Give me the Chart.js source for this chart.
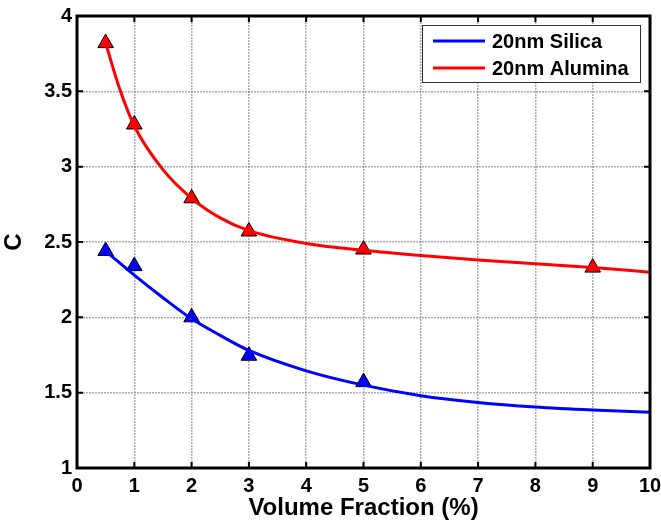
<!DOCTYPE html>
<html>
<head>
<meta charset="utf-8">
<script src="https://cdn.jsdelivr.net/npm/chart.js@4"></script>
<style>
  html, body { margin: 0; padding: 0; background: #fff; }
  #wrap { width: 661px; height: 523px; }
</style>
</head>
<body>
<div id="wrap"><canvas id="chart" width="661" height="523"></canvas></div>
<script>
// fitted curves
const fitX = [0.5, 0.75, 1, 1.5, 2, 2.5, 3, 4, 5, 6, 7, 8, 9, 10];
const silicaFit = [2.44, 2.36, 2.28, 2.13, 1.99, 1.88, 1.78, 1.645, 1.55, 1.48, 1.435, 1.405, 1.385, 1.37];
const aluminaFit = [3.82, 3.51, 3.27, 2.98, 2.79, 2.66, 2.575, 2.49, 2.445, 2.41, 2.38, 2.355, 2.33, 2.30];

// measured points
const silicaX = [0.5, 1, 2, 3, 5];
const silicaY = [2.44, 2.34, 2.0, 1.745, 1.57];
const aluminaX = [0.5, 1, 2, 3, 5, 9];
const aluminaY = [3.82, 3.28, 2.79, 2.57, 2.45, 2.33];

const xTicks = [0, 1, 2, 3, 4, 5, 6, 7, 8, 9, 10];
const yTicks = [1, 1.5, 2, 2.5, 3, 3.5, 4];

const FONT = 'Liberation Sans, Arial, sans-serif';
const pts = (xs, ys) => xs.map((x, i) => ({ x: x, y: ys[i] }));

// frame, inward ticks and legend box
const framePlugin = {
  id: 'frame',
  afterDraw(chart) {
    const { ctx, chartArea: a, scales } = chart;
    ctx.save();
    ctx.strokeStyle = '#000';
    ctx.lineWidth = 2;
    xTicks.forEach(v => {
      const px = scales.x.getPixelForValue(v);
      ctx.beginPath();
      ctx.moveTo(px, a.bottom); ctx.lineTo(px, a.bottom - 6);
      ctx.moveTo(px, a.top); ctx.lineTo(px, a.top + 6);
      ctx.stroke();
    });
    yTicks.forEach(v => {
      const py = scales.y.getPixelForValue(v);
      ctx.beginPath();
      ctx.moveTo(a.left, py); ctx.lineTo(a.left + 6, py);
      ctx.moveTo(a.right, py); ctx.lineTo(a.right - 6, py);
      ctx.stroke();
    });
    ctx.lineWidth = 3;
    ctx.strokeRect(a.left, a.top, a.right - a.left, a.bottom - a.top);

    // legend
    const bx = 422, by = 25, bw = 218, bh = 57;
    ctx.fillStyle = '#fff';
    ctx.fillRect(bx, by, bw, bh);
    ctx.lineWidth = 1;
    ctx.strokeStyle = '#333';
    ctx.strokeRect(bx + 0.5, by + 0.5, bw, bh);
    const items = [['20nm Silica', '#0000ff', 41], ['20nm Alumina', '#ff0000', 68]];
    ctx.font = 'bold 20px ' + FONT;
    ctx.textBaseline = 'middle';
    items.forEach(([label, color, y]) => {
      ctx.strokeStyle = color;
      ctx.lineWidth = 3;
      ctx.beginPath();
      ctx.moveTo(433, y); ctx.lineTo(485, y);
      ctx.stroke();
      ctx.fillStyle = '#000';
      ctx.fillText(label, 492, y + 1);
    });
    ctx.restore();
  }
};

new Chart(document.getElementById('chart'), {
  type: 'line',
  data: {
    datasets: [
      {
        label: '20nm Silica',
        data: pts(fitX, silicaFit),
        borderColor: '#0000ff',
        borderWidth: 3,
        pointRadius: 0,
        cubicInterpolationMode: 'monotone',
        fill: false
      },
      {
        label: '20nm Alumina',
        data: pts(fitX, aluminaFit),
        borderColor: '#ff0000',
        borderWidth: 3,
        pointRadius: 0,
        cubicInterpolationMode: 'monotone',
        fill: false
      },
      {
        label: 'Silica data',
        data: pts(silicaX, silicaY),
        showLine: false,
        pointStyle: 'triangle',
        pointRadius: 9,
        pointBackgroundColor: '#0000ff',
        pointBorderColor: '#000',
        pointBorderWidth: 1
      },
      {
        label: 'Alumina data',
        data: pts(aluminaX, aluminaY),
        showLine: false,
        pointStyle: 'triangle',
        pointRadius: 9,
        pointBackgroundColor: '#ff0000',
        pointBorderColor: '#000',
        pointBorderWidth: 1
      }
    ]
  },
  options: {
    responsive: false,
    animation: false,
    layout: { padding: { top: 16, right: 11, left: 0, bottom: 0 } },
    plugins: {
      legend: { display: false },
      tooltip: { enabled: false }
    },
    scales: {
      x: {
        type: 'linear',
        min: 0,
        max: 10,
        afterBuildTicks: s => { s.ticks = xTicks.map(v => ({ value: v })); },
        afterFit: s => { s.height = 55; s.paddingRight = 0; s.paddingLeft = 0; },
        grid: {
          color: 'rgba(120,120,120,0.6)',
          lineWidth: 1.5,
          drawTicks: false
        },
        border: { display: false, dash: [2, 1] },
        ticks: {
          color: '#000',
          font: { family: FONT, size: 20, weight: 'bold' },
          padding: 6,
          maxRotation: 0,
          callback: v => String(v)
        },
        title: {
          display: true,
          text: 'Volume Fraction (%)',
          color: '#000',
          font: { family: FONT, size: 24, weight: 'bold' },
          padding: { top: 0, bottom: 0 }
        }
      },
      y: {
        min: 1,
        max: 4,
        afterBuildTicks: s => { s.ticks = yTicks.map(v => ({ value: v })); },
        afterFit: s => { s.width = 77; s.paddingTop = 0; s.paddingBottom = 0; },
        grid: {
          color: 'rgba(120,120,120,0.6)',
          lineWidth: 1.5,
          drawTicks: false
        },
        border: { display: false, dash: [2, 1] },
        ticks: {
          color: '#000',
          font: { family: FONT, size: 20, weight: 'bold' },
          padding: 5,
          callback: v => String(v)
        },
        title: {
          display: true,
          text: 'C',
          color: '#000',
          font: { family: FONT, size: 24, weight: 'bold' },
          padding: { top: 0, bottom: 4 }
        }
      }
    }
  },
  plugins: [framePlugin]
});
</script>
</body>
</html>
